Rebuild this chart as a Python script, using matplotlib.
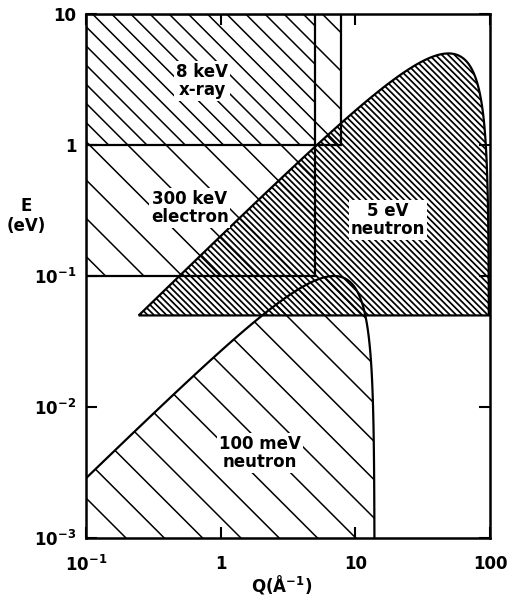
import numpy as np
import matplotlib
matplotlib.use("Agg")
import matplotlib.pyplot as plt
from matplotlib.patches import Polygon, Rectangle
from matplotlib.collections import LineCollection
from matplotlib.transforms import IdentityTransform

plt.rcParams["font.family"] = ["DejaVu Sans"]
plt.rcParams["font.weight"] = "bold"
plt.rcParams["mathtext.default"] = "bf"

# Probe windows in (Q, E) space
xray_Q = [0.1, 7.8]          # Å^-1
xray_E = [1.0, 10.0]         # eV
electron_Q = [0.1, 5.0]
electron_E = [0.1, 10.0]
neutron_E0 = [5.0, 0.1]      # incident neutron energy, eV
neutron_wmin = [0.05, 1e-4]  # lowest energy transfer covered, eV

x_ticks = [0.1, 1, 10, 100]
x_ticklabels = [r"$10^{-1}$", "1", "10", "100"]
y_ticks = [1e-3, 1e-2, 1e-1, 1, 10]
y_ticklabels = [r"$10^{-3}$", r"$10^{-2}$", r"$10^{-1}$", "1", "10"]

HBAR2_2M = 2.0721e-3  # eV Å^2, neutron E = HBAR2_2M * k^2


def neutron_region(E0, wmin):
    """Kinematically accessible (Q, w) region for neutrons of energy E0."""
    ki = np.sqrt(E0 / HBAR2_2M)
    kf_max = np.sqrt((E0 - wmin) / HBAR2_2M)
    q_lo = np.geomspace(ki - kf_max, ki, 800)
    w_lo = E0 - HBAR2_2M * (ki - q_lo) ** 2
    kf = np.linspace(0.0, kf_max, 800)
    q_hi = ki + kf
    w_hi = E0 - HBAR2_2M * kf ** 2
    q = np.concatenate([q_lo, q_hi[1:]])
    w = np.concatenate([w_lo, w_hi[1:]])
    return np.column_stack([q, w])


fig = plt.figure(figsize=(5.11, 5.97), dpi=100)
W, H = 511, 597
ax = fig.add_axes([86 / W, 1 - 538 / H, (490 - 86) / W, (538 - 14) / H])
ax.set_xscale("log")
ax.set_yscale("log")
ax.set_xlim(0.1, 100)
ax.set_ylim(1e-3, 10)


def hatch(patch, spacing, phase, lw):
    """Draw 45-degree hatch lines (pixel spacing) clipped to a patch."""
    bb = ax.bbox
    x0, y0, x1, y1 = bb.x0, bb.y0, bb.x1, bb.y1
    dmin, dmax = y0 - y1 - spacing, x1 - x0 + spacing
    k0 = np.floor((dmin - phase) / spacing)
    k1 = np.ceil((dmax - phase) / spacing)
    segs = []
    for k in np.arange(k0, k1 + 1):
        c = x0 + y1 + phase + k * spacing
        segs.append([(c - (y0 - 5), y0 - 5), (c - (y1 + 5), y1 + 5)])
    lc = LineCollection(segs, transform=IdentityTransform(), colors="black",
                        linewidths=lw, zorder=2)
    ax.add_collection(lc, autolim=False)
    lc.set_clip_path(patch)


edge_kw = dict(fill=False, edgecolor="black", linewidth=1.6, zorder=3)

xray = Rectangle((xray_Q[0], xray_E[0]), xray_Q[1] - xray_Q[0],
                 xray_E[1] - xray_E[0], **edge_kw)
electron = Rectangle((electron_Q[0], electron_E[0]),
                     electron_Q[1] - electron_Q[0],
                     electron_E[1] - electron_E[0], **edge_kw)
ax.add_patch(xray)
ax.add_patch(electron)
hatch(xray, 38.3, 6.5, 1.1)
hatch(electron, 38.3, 25.7, 1.1)

n5 = Polygon(neutron_region(neutron_E0[0], neutron_wmin[0]), closed=True, **edge_kw)
n100 = Polygon(neutron_region(neutron_E0[1], neutron_wmin[1]), closed=True, **edge_kw)
ax.add_patch(n5)
ax.add_patch(n100)
hatch(n5, 6.3, 0.0, 1.25)
hatch(n100, 38.3, 13.9, 1.1)

lab_kw = dict(ha="center", va="center", fontsize=12, fontweight="bold",
              linespacing=1.0, zorder=5,
              bbox=dict(facecolor="white", edgecolor="none", pad=1.2))
ax.text(0.726, 3.08, "8 keV\nx-ray", **lab_kw)
ax.text(0.59, 0.33, "300 keV\nelectron", **lab_kw)
ax.text(17.5, 0.267, "5 eV\nneutron", **lab_kw)
ax.text(1.96, 0.00446, "100 meV\nneutron", **lab_kw)

ax.set_xticks(x_ticks)
ax.set_xticklabels(x_ticklabels)
ax.set_yticks(y_ticks)
ax.set_yticklabels(y_ticklabels)
ax.minorticks_off()
ax.tick_params(which="major", direction="in", length=8, width=1.5,
               top=True, right=True, labelsize=12, pad=7)
ax.tick_params(axis="x", pad=12)
for s in ax.spines.values():
    s.set_linewidth(1.8)

fig.text(26 / W, 1 - 216 / H, "E\n(eV)", ha="center", va="center",
         fontsize=12, fontweight="bold", linespacing=1.1)
fig.text(282 / W, 1 - 585 / H, r"Q($\mathrm{\AA}^{-1}$)", ha="center",
         va="center", fontsize=12, fontweight="bold")

fig.savefig("out.png", dpi=100)
